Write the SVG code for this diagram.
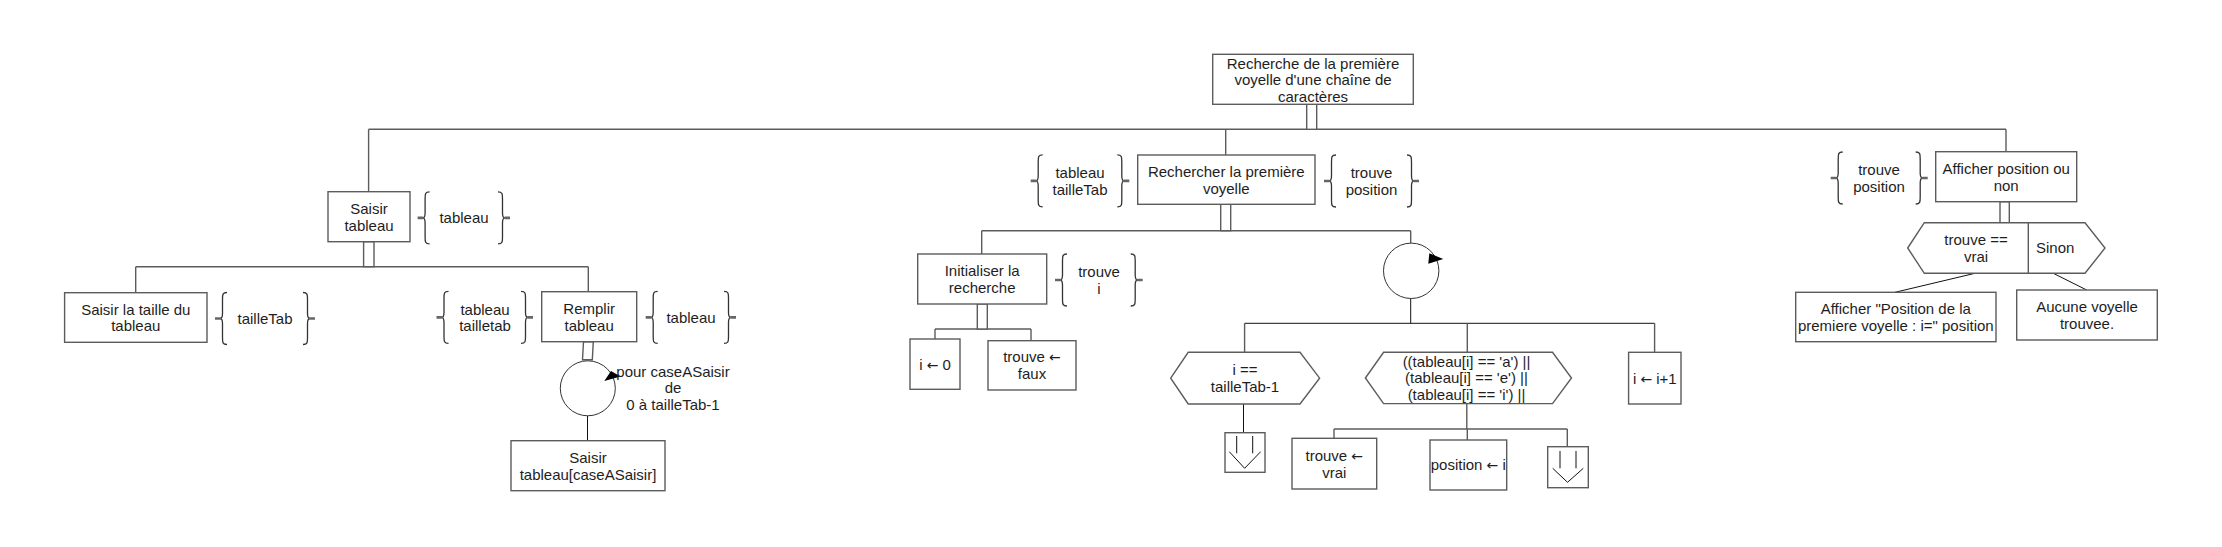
<svg xmlns="http://www.w3.org/2000/svg" width="2222" height="547" viewBox="0 0 2222 547">
<style>
  .box{fill:#fff;stroke:#5c5c5c;stroke-width:1.4}
  .dbl{fill:#fff;stroke:#5c5c5c;stroke-width:1.4}
  .c{fill:none;stroke:#5c5c5c;stroke-width:1.4}
  .k{fill:none;stroke:#111;stroke-width:1}
  .loop{fill:#fff;stroke:#333;stroke-width:1}
  .br{fill:none;stroke:#333;stroke-width:1.3}
  .stub{fill:#666;stroke:none}
  text{font-family:"Liberation Sans",Arial,sans-serif;font-size:15px;fill:#1e1e1e;text-anchor:middle}
  text.l{text-anchor:start}
  .ar{font-family:"DejaVu Sans",sans-serif;font-size:14px}
</style>

<g id="connectors">
  <path class="c" d="M368.6,129.3 H2006 M368.6,129.3 V191.7 M1225.7,129.3 V155 M2006,129.3 V151.7"/>
  <path class="c" d="M135.7,266.7 H588.3 M135.7,266.7 V292.7 M588.3,266.7 V291.7"/>
  <path class="k" d="M587.5,416 V440.7"/>
  <path class="c" d="M981.7,230.7 H1410.7 M981.7,230.7 V254 M1410.7,230.7 V243.2"/>
  <path class="c" d="M935,329 H1031 M935,329 V339 M1031,329 V340.7"/>
  <path class="k" d="M1410.7,298.4 V323.3 M1244.6,323.3 H1654.6"/>
  <path class="c" d="M1244.6,323.3 V352.3 M1467.3,323.3 V352.3 M1654.6,323.3 V352.3"/>
  <path class="k" d="M1243.5,404 V432.7"/>
  <path class="c" d="M1466.8,403.3 V429 M1334,429 H1567.3 M1334,429 V438.3 M1467.3,429 V440 M1567.3,429 V446.7"/>
  <path class="k" d="M1975,273.3 L1895,292.3 M2053.3,273.3 L2086.7,290"/>
  <rect class="dbl" x="1306.7" y="104.3" width="10" height="25"/>
  <rect class="dbl" x="363.6" y="241.7" width="10.4" height="25"/>
  <path class="dbl" d="M583.5,341.7 L593.3,341.7 L592.3,359.8 L582.5,359.8 Z"/>
  <rect class="dbl" x="1220.7" y="204.3" width="10" height="26.4"/>
  <rect class="dbl" x="977.3" y="304" width="10" height="25"/>
  <rect class="dbl" x="2000" y="201.7" width="9.3" height="21"/>
</g>

<g id="n-root">
  <rect class="box" x="1212.7" y="54.3" width="200.6" height="50"/>
  <text x="1313" y="68.5">Recherche de la première</text>
  <text x="1313" y="85">voyelle d'une chaîne de</text>
  <text x="1313" y="101.5">caractères</text>
</g>

<g id="n-saisir-tableau">
  <rect class="box" x="328" y="191.7" width="82" height="50"/>
  <text x="369" y="214">Saisir</text>
  <text x="369" y="230.7">tableau</text>
</g>
<g id="d-saisir-tableau-out">
  <path class="br" d="M429.6,191.9 C425.1,191.9 425.1,194 425.1,198.9 L425.1,212.9 C425.1,216 424,217.9 422.6,217.9 C424,217.9 425.1,220 425.1,222.9 L425.1,236.9 C425.1,242 425.1,243.9 429.6,243.9"/>
  <path class="stub" d="M417.6,216.6 L422.6,216.6 L424.6,217.9 L422.6,219.2 L417.6,219.2 Z"/>
  <path class="br" d="M498,191.9 C502.5,191.9 502.5,194 502.5,198.9 L502.5,212.9 C502.5,216 503.6,217.9 505,217.9 C503.6,217.9 502.5,220 502.5,222.9 L502.5,236.9 C502.5,242 502.5,243.9 498,243.9"/>
  <path class="stub" d="M510,216.6 L505,216.6 L503,217.9 L505,219.2 L510,219.2 Z"/>
  <text x="464" y="223.3">tableau</text>
</g>

<g id="n-saisir-taille">
  <rect class="box" x="64.6" y="292.7" width="142.4" height="49.6"/>
  <text x="135.8" y="314.6">Saisir la taille du</text>
  <text x="135.8" y="331.3">tableau</text>
</g>
<g id="d-tailleTab">
  <path class="br" d="M227,292.5 C222.5,292.5 222.5,294.6 222.5,299.5 L222.5,313.5 C222.5,316.6 221.4,318.5 220,318.5 C221.4,318.5 222.5,320.6 222.5,323.5 L222.5,337.5 C222.5,342.6 222.5,344.5 227,344.5"/>
  <path class="stub" d="M215,317.2 L220,317.2 L222,318.5 L220,319.8 L215,319.8 Z"/>
  <path class="br" d="M303,292.5 C307.5,292.5 307.5,294.6 307.5,299.5 L307.5,313.5 C307.5,316.6 308.6,318.5 310,318.5 C308.6,318.5 307.5,320.6 307.5,323.5 L307.5,337.5 C307.5,342.6 307.5,344.5 303,344.5"/>
  <path class="stub" d="M315,317.2 L310,317.2 L308,318.5 L310,319.8 L315,319.8 Z"/>
  <text x="265" y="323.9">tailleTab</text>
</g>

<g id="d-remplir-in">
  <path class="br" d="M448.5,291.4 C444,291.4 444,293.5 444,298.4 L444,312.4 C444,315.5 442.9,317.4 441.5,317.4 C442.9,317.4 444,319.5 444,322.4 L444,336.4 C444,341.5 444,343.4 448.5,343.4"/>
  <path class="stub" d="M436.5,316.1 L441.5,316.1 L443.5,317.4 L441.5,318.7 L436.5,318.7 Z"/>
  <path class="br" d="M521,291.4 C525.5,291.4 525.5,293.5 525.5,298.4 L525.5,312.4 C525.5,315.5 526.6,317.4 528,317.4 C526.6,317.4 525.5,319.5 525.5,322.4 L525.5,336.4 C525.5,341.5 525.5,343.4 521,343.4"/>
  <path class="stub" d="M533,316.1 L528,316.1 L526,317.4 L528,318.7 L533,318.7 Z"/>
  <text x="485" y="314.5">tableau</text>
  <text x="485" y="331.2">tailletab</text>
</g>
<g id="n-remplir">
  <rect class="box" x="541.7" y="291.7" width="95" height="50"/>
  <text x="589.2" y="313.8">Remplir</text>
  <text x="589.2" y="330.5">tableau</text>
</g>
<g id="d-remplir-out">
  <path class="br" d="M657.7,291.4 C653.2,291.4 653.2,293.5 653.2,298.4 L653.2,312.4 C653.2,315.5 652.1,317.4 650.7,317.4 C652.1,317.4 653.2,319.5 653.2,322.4 L653.2,336.4 C653.2,341.5 653.2,343.4 657.7,343.4"/>
  <path class="stub" d="M645.7,316.1 L650.7,316.1 L652.7,317.4 L650.7,318.7 L645.7,318.7 Z"/>
  <path class="br" d="M724,291.4 C728.5,291.4 728.5,293.5 728.5,298.4 L728.5,312.4 C728.5,315.5 729.6,317.4 731,317.4 C729.6,317.4 728.5,319.5 728.5,322.4 L728.5,336.4 C728.5,341.5 728.5,343.4 724,343.4"/>
  <path class="stub" d="M736,316.1 L731,316.1 L729,317.4 L731,318.7 L736,318.7 Z"/>
  <text x="691" y="322.8">tableau</text>
</g>

<g id="n-loop1">
  <circle class="loop" cx="587.8" cy="388.3" r="27.5"/>
  <path d="M604.3,381 L611,371 L620.5,376.5 Z" fill="#000"/>
  <text x="673" y="376.5">pour caseASaisir</text>
  <text x="673" y="393.2">de</text>
  <text x="673" y="410">0 à tailleTab-1</text>
</g>

<g id="n-saisir-case">
  <rect class="box" x="511" y="440.7" width="154" height="50"/>
  <text x="588" y="462.8">Saisir</text>
  <text x="588" y="479.5">tableau[caseASaisir]</text>
</g>

<g id="d-rechercher-in">
  <path class="br" d="M1042.7,154.9 C1038.2,154.9 1038.2,157 1038.2,161.9 L1038.2,175.9 C1038.2,179 1037.1,180.9 1035.7,180.9 C1037.1,180.9 1038.2,183 1038.2,185.9 L1038.2,199.9 C1038.2,205 1038.2,206.9 1042.7,206.9"/>
  <path class="stub" d="M1030.7,179.6 L1035.7,179.6 L1037.7,180.9 L1035.7,182.2 L1030.7,182.2 Z"/>
  <path class="br" d="M1117.3,154.9 C1121.8,154.9 1121.8,157 1121.8,161.9 L1121.8,175.9 C1121.8,179 1122.9,180.9 1124.3,180.9 C1122.9,180.9 1121.8,183 1121.8,185.9 L1121.8,199.9 C1121.8,205 1121.8,206.9 1117.3,206.9"/>
  <path class="stub" d="M1129.3,179.6 L1124.3,179.6 L1122.3,180.9 L1124.3,182.2 L1129.3,182.2 Z"/>
  <text x="1080" y="178">tableau</text>
  <text x="1080" y="194.7">tailleTab</text>
</g>
<g id="n-rechercher">
  <rect class="box" x="1137.7" y="155" width="177.3" height="49.3"/>
  <text x="1226.3" y="176.8">Rechercher la première</text>
  <text x="1226.3" y="193.5">voyelle</text>
</g>
<g id="d-rechercher-out">
  <path class="br" d="M1336,155 C1331.5,155 1331.5,157.1 1331.5,162 L1331.5,176 C1331.5,179.1 1330.4,181 1329,181 C1330.4,181 1331.5,183.1 1331.5,186 L1331.5,200 C1331.5,205.1 1331.5,207 1336,207"/>
  <path class="stub" d="M1324,179.7 L1329,179.7 L1331,181 L1329,182.3 L1324,182.3 Z"/>
  <path class="br" d="M1407,155 C1411.5,155 1411.5,157.1 1411.5,162 L1411.5,176 C1411.5,179.1 1412.6,181 1414,181 C1412.6,181 1411.5,183.1 1411.5,186 L1411.5,200 C1411.5,205.1 1411.5,207 1407,207"/>
  <path class="stub" d="M1419,179.7 L1414,179.7 L1412,181 L1414,182.3 L1419,182.3 Z"/>
  <text x="1371.5" y="178.1">trouve</text>
  <text x="1371.5" y="194.8">position</text>
</g>

<g id="n-initialiser">
  <rect class="box" x="917.7" y="254" width="129" height="50"/>
  <text x="982.2" y="276">Initialiser la</text>
  <text x="982.2" y="292.7">recherche</text>
</g>
<g id="d-initialiser-out">
  <path class="br" d="M1067,254 C1062.5,254 1062.5,256.1 1062.5,261 L1062.5,275 C1062.5,278.1 1061.4,280 1060,280 C1061.4,280 1062.5,282.1 1062.5,285 L1062.5,299 C1062.5,304.1 1062.5,306 1067,306"/>
  <path class="stub" d="M1055,278.7 L1060,278.7 L1062,280 L1060,281.3 L1055,281.3 Z"/>
  <path class="br" d="M1130.7,254 C1135.2,254 1135.2,256.1 1135.2,261 L1135.2,275 C1135.2,278.1 1136.3,280 1137.7,280 C1136.3,280 1135.2,282.1 1135.2,285 L1135.2,299 C1135.2,304.1 1135.2,306 1130.7,306"/>
  <path class="stub" d="M1142.7,278.7 L1137.7,278.7 L1135.7,280 L1137.7,281.3 L1142.7,281.3 Z"/>
  <text x="1099" y="277.1">trouve</text>
  <text x="1099" y="293.8">i</text>
</g>

<g id="n-i0">
  <rect class="box" x="910" y="339" width="50" height="50.3"/>
  <text x="935" y="369.6">i <tspan class="ar">←</tspan> 0</text>
</g>
<g id="n-trouve-faux">
  <rect class="box" x="988" y="340.7" width="88" height="49.3"/>
  <text x="1032" y="362.4">trouve <tspan class="ar">←</tspan></text>
  <text x="1032" y="379.1">faux</text>
</g>

<g id="n-loop2">
  <circle class="loop" cx="1411.2" cy="270.8" r="27.7"/>
  <path d="M1429.3,253.3 L1443.3,259 L1428.3,263.8 Z" fill="#000"/>
</g>

<g id="n-cond-fin">
  <path class="box" d="M1170.7,378.2 L1188.2,352.3 L1300,352.3 L1319.6,378.2 L1300,404 L1188.2,404 Z"/>
  <text x="1245" y="375">i ==</text>
  <text x="1245" y="391.7">tailleTab-1</text>
</g>
<g id="n-exit1">
  <rect class="box" x="1225" y="432.7" width="40" height="39.6"/>
  <path class="k" d="M1236.7,436 V453.3 M1252.7,436 V453.3 M1229.3,451.7 L1244.6,468.3 L1260.7,451.7"/>
</g>

<g id="n-cond-voyelle">
  <path class="box" d="M1365.4,378 L1383.6,352.3 L1552.5,352.3 L1571.5,378 L1552.5,403.6 L1383.6,403.6 Z"/>
  <text x="1466.5" y="366.7">((tableau[i] == 'a') ||</text>
  <text x="1466.5" y="383.4">(tableau[i] == 'e') ||</text>
  <text x="1466.5" y="400.1">(tableau[i] == 'i') ||</text>
</g>
<g id="n-trouve-vrai">
  <rect class="box" x="1292" y="438.3" width="84.7" height="50.7"/>
  <text x="1334.3" y="460.8">trouve <tspan class="ar">←</tspan></text>
  <text x="1334.3" y="477.5">vrai</text>
</g>
<g id="n-position-i">
  <rect class="box" x="1430" y="440" width="76.7" height="50"/>
  <text x="1468.3" y="470.4">position <tspan class="ar">←</tspan> i</text>
</g>
<g id="n-exit2">
  <rect class="box" x="1547.7" y="446.7" width="40.6" height="41"/>
  <path class="k" d="M1560,451 V468.3 M1576,451 V468.3 M1552.7,468.3 L1567.5,482.3 L1583.3,468.3"/>
</g>

<g id="n-incr">
  <rect class="box" x="1628.6" y="352.3" width="52.4" height="51.7"/>
  <text x="1654.8" y="383.6">i <tspan class="ar">←</tspan> i+1</text>
</g>

<g id="d-afficher-in">
  <path class="br" d="M1842.7,152 C1838.2,152 1838.2,154.1 1838.2,159 L1838.2,173 C1838.2,176.1 1837.1,178 1835.7,178 C1837.1,178 1838.2,180.1 1838.2,183 L1838.2,197 C1838.2,202.1 1838.2,204 1842.7,204"/>
  <path class="stub" d="M1830.7,176.7 L1835.7,176.7 L1837.7,178 L1835.7,179.3 L1830.7,179.3 Z"/>
  <path class="br" d="M1915.7,152 C1920.2,152 1920.2,154.1 1920.2,159 L1920.2,173 C1920.2,176.1 1921.3,178 1922.7,178 C1921.3,178 1920.2,180.1 1920.2,183 L1920.2,197 C1920.2,202.1 1920.2,204 1915.7,204"/>
  <path class="stub" d="M1927.7,176.7 L1922.7,176.7 L1920.7,178 L1922.7,179.3 L1927.7,179.3 Z"/>
  <text x="1879" y="175.1">trouve</text>
  <text x="1879" y="191.8">position</text>
</g>
<g id="n-afficher">
  <rect class="box" x="1935.7" y="151.7" width="141" height="50"/>
  <text x="2006.2" y="173.8">Afficher position ou</text>
  <text x="2006.2" y="190.5">non</text>
</g>

<g id="n-cond-trouve">
  <path class="box" d="M1907.7,248 L1924.3,222.7 L2085,222.7 L2105,248 L2085,273.3 L1924.3,273.3 Z"/>
  <path class="c" d="M2028.3,222.7 V273.3"/>
  <text x="1976" y="245">trouve ==</text>
  <text x="1976" y="261.7">vrai</text>
  <text class="l" x="2036" y="253.4">Sinon</text>
</g>
<g id="n-afficher-pos">
  <rect class="box" x="1795.7" y="292.3" width="200.3" height="49.4"/>
  <text x="1895.8" y="314.1">Afficher "Position de la</text>
  <text x="1895.8" y="330.8">premiere voyelle : i=" position</text>
</g>
<g id="n-aucune">
  <rect class="box" x="2016.7" y="290" width="140.6" height="50"/>
  <text x="2087" y="312.1">Aucune voyelle</text>
  <text x="2087" y="328.8">trouvee.</text>
</g>
</svg>
